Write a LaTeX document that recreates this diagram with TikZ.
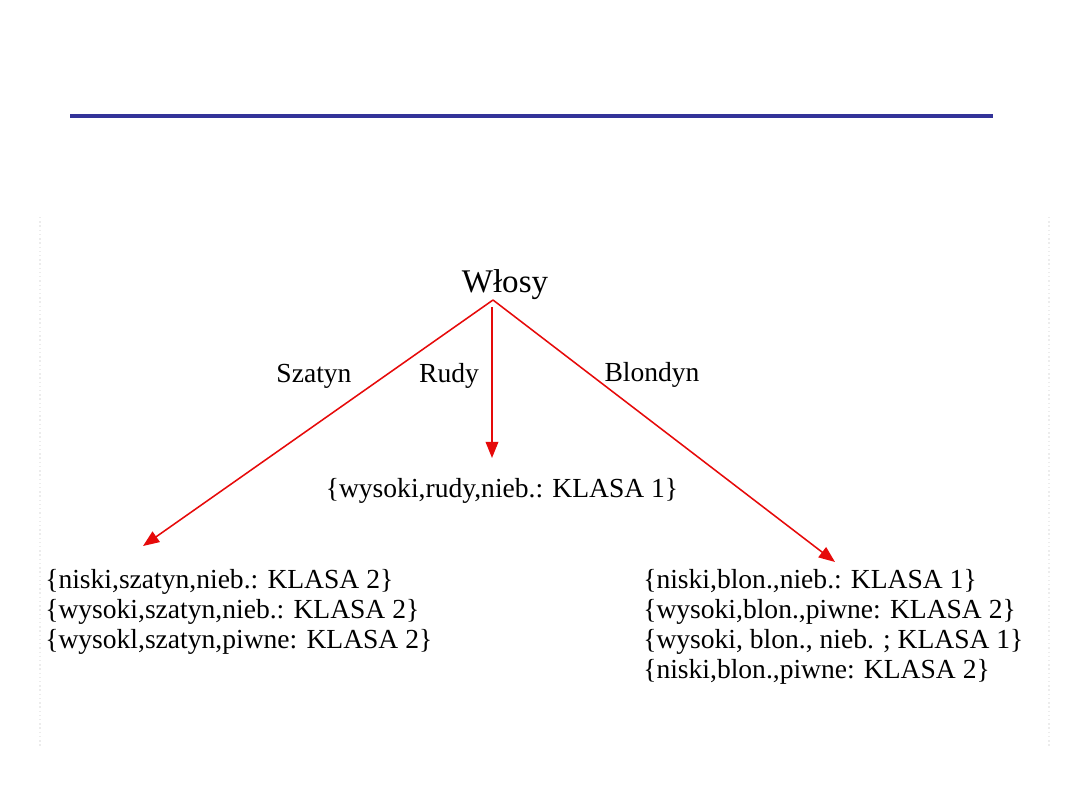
\documentclass[tikz,border=0pt]{standalone}
\usepackage{fontspec}
\setmainfont{Liberation Serif}
\usepackage{tikz}
\usetikzlibrary{positioning,arrows.meta}

\definecolor{rulebl}{RGB}{51,51,153}
\definecolor{arrred}{RGB}{230,10,10}

\begin{document}
\begin{tikzpicture}[x=0.025cm,y=-0.025cm,
  arr/.style={draw=arrred,line width=1.1pt,-{Triangle[length=11.5pt,width=9pt]}},
  lbl/.style={inner sep=0pt,font=\fontsize{19.6}{21}\selectfont},
  leaf/.style={inner sep=0pt,align=left,font=\fontsize{19.6}{21.3}\selectfont}]
  \useasboundingbox (0,0) rectangle (1080,810);
  \draw[rulebl,line width=2.85pt](70,116)--(993,116);
  \draw[gray!15,dotted,line width=1pt](40,217)--(40,746);
  \draw[gray!15,dotted,line width=1pt](1049,217)--(1049,746);
  % root and branches
  \node[lbl,anchor=base,font=\fontsize{23.5}{25}\selectfont] (root) at (505,292){Włosy};
  \coordinate (apex) at (493,300);
  \coordinate (rtop) at (492,307);
  \node[lbl,anchor=base] (szatyn) at (314,382){Szatyn};
  \node[lbl,anchor=base] (rudy) at (449,382){Rudy};
  \node[lbl,anchor=base] (blond) at (652,381){Blondyn};
  \node[lbl,anchor=base] (leafr) at (502,497){\{wysoki,rudy,nieb.: KLASA 1\}};
  \node[leaf,anchor=north west] (leafs) at (45,569.5){\{niski,szatyn,nieb.: KLASA 2\}\\
    \{wysoki,szatyn,nieb.: KLASA 2\}\\ \{wysokl,szatyn,piwne: KLASA 2\}};
  \node[leaf,anchor=north west] (leafb) at (643,569.5){\{niski,blon.,nieb.: KLASA 1\}\\
    \{wysoki,blon.,piwne: KLASA 2\}\\ \{wysoki, blon., nieb. ; KLASA 1\}\\
    \{niski,blon.,piwne: KLASA 2\}};
  \coordinate (tips) at (143,546);
  \coordinate (tipr) at (492,458);
  \coordinate (tipb) at (835,562);
  \draw[arr](apex)--(tips);
  \draw[arr](rtop)--(tipr);
  \draw[arr](apex)--(tipb);
\end{tikzpicture}
\end{document}
